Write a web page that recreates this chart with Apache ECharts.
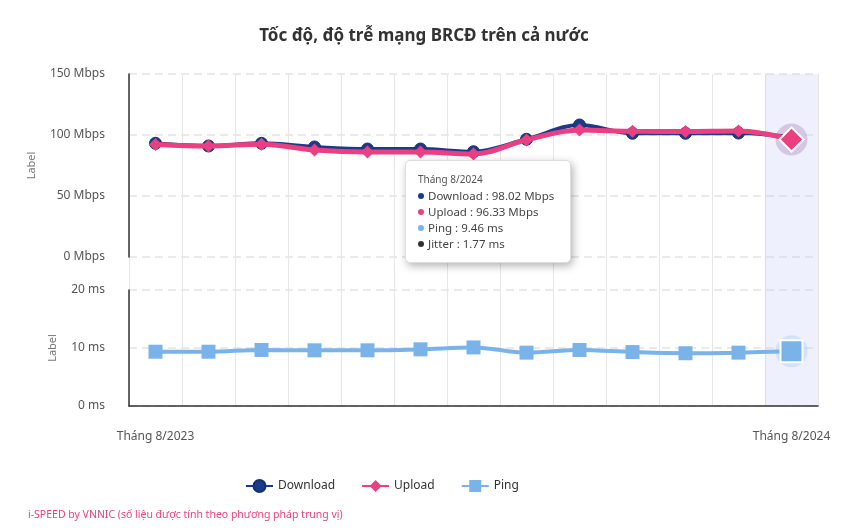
<!DOCTYPE html>
<html>
<head>
<meta charset="utf-8">
<script src="https://cdn.jsdelivr.net/npm/echarts@6/dist/echarts.min.js"></script>
<style>html,body{margin:0;padding:0;background:#fff}#c{width:867px;height:531px}</style>
</head>
<body>
<div id="c"></div>
<script>
const categories = ['Tháng 8/2023','Tháng 9/2023','Tháng 10/2023','Tháng 11/2023','Tháng 12/2023','Tháng 1/2024','Tháng 2/2024','Tháng 3/2024','Tháng 4/2024','Tháng 5/2024','Tháng 6/2024','Tháng 7/2024','Tháng 8/2024'];
const download = [93.2, 91.0, 93.2, 90.2, 88.5, 88.5, 86.3, 96.5, 108.2, 101.4, 101.4, 101.6, 98.02];
const upload = [92.3, 91.0, 92.5, 87.7, 86.0, 86.0, 84.4, 96.0, 104.0, 103.0, 102.9, 103.3, 96.33];
const ping = [9.36, 9.36, 9.66, 9.6, 9.6, 9.77, 10.1, 9.2, 9.66, 9.3, 9.1, 9.2, 9.46];
const jitterLatest = 1.77;
const speedTicks = [0, 50, 100, 150];
const pingTicks = [0, 10, 20];

const C_DL = '#1b3a8c', C_UL = '#ea3f80', C_PING = '#7ab3ea', C_JIT = '#333333';
const FONT = '"Noto Sans", sans-serif';
const last = categories.length - 1;

function withLast(arr, style) {
  return arr.map((v, i) => i === last ? Object.assign({ value: v }, style) : v);
}

const chart = echarts.init(document.getElementById('c'));
const dot = c => '<span style="display:inline-block;width:6px;height:6px;border-radius:50%;background:' + c + ';margin-right:4px;vertical-align:middle;position:relative;top:-1px"></span>';

chart.setOption({
  animation: false,
  textStyle: { fontFamily: FONT },
  title: [
    { text: 'Tốc độ, độ trễ mạng BRCĐ trên cả nước', left: 419, textAlign: 'center', top: 23,
      textStyle: { fontSize: 17, fontWeight: 'bold', color: '#333', fontFamily: FONT } },
    { text: 'i-SPEED by VNNIC (số liệu được tính theo phương pháp trung vị)', left: 23, top: 505,
      textStyle: { fontSize: 10.5, fontWeight: 'normal', color: '#e8457c', fontFamily: FONT } }
  ],
  legend: {
    left: 240, top: 474, itemWidth: 27, itemHeight: 15, itemGap: 26,
    data: ['Download', 'Upload', 'Ping'],
    textStyle: { color: '#333', fontSize: 12, fontFamily: FONT }
  },
  tooltip: {
    trigger: 'axis', alwaysShowContent: true, transitionDuration: 0,
    axisPointer: { type: 'none' },
    backgroundColor: '#fff', borderColor: '#ddd', borderWidth: 1, padding: [10, 12],
    extraCssText: 'box-shadow:2px 3px 8px rgba(0,0,0,0.3);border-radius:5px;width:140px;',
    position: () => [405, 160],
    formatter: params => {
      const i = params[0].dataIndex;
      return '<div style="font-family:Noto Sans;line-height:16px;color:#444">' +
        '<div style="font-size:10px;color:#555;margin-bottom:1px">' + categories[i] + '</div>' +
        '<div style="font-size:11.5px">' + dot(C_DL) + 'Download : ' + download[i].toFixed(2) + ' Mbps</div>' +
        '<div style="font-size:11.5px">' + dot(C_UL) + 'Upload : ' + upload[i].toFixed(2) + ' Mbps</div>' +
        '<div style="font-size:11.5px">' + dot(C_PING) + 'Ping : ' + ping[i].toFixed(2) + ' ms</div>' +
        '<div style="font-size:11.5px">' + dot(C_JIT) + 'Jitter : ' + jitterLatest.toFixed(2) + ' ms</div></div>';
    }
  },
  axisPointer: { link: [{ xAxisIndex: 'all' }] },
  grid: [
    { left: 129, right: 49, top: 74, height: 183 },
    { left: 129, right: 49, top: 290, height: 116 },
    { left: 129, right: 49, top: 74, height: 332 }
  ],
  xAxis: [
    { type: 'category', gridIndex: 0, data: categories, axisLine: { show: false }, axisTick: { show: false },
      axisLabel: { show: false }, splitLine: { show: false }, axisPointer: { type: 'none' } },
    { type: 'category', gridIndex: 1, data: categories, axisLine: { show: true, lineStyle: { color: '#333', width: 1.5 } },
      axisTick: { show: false }, splitLine: { show: false }, axisPointer: { type: 'none' },
      axisLabel: { interval: (i) => i === 0 || i === last, margin: 25, color: '#555', fontSize: 12 } },
    { type: 'category', gridIndex: 2, data: categories, axisLine: { show: false }, axisTick: { show: false },
      axisLabel: { show: false }, splitLine: { show: true, interval: 0, lineStyle: { color: '#e6e6e6', width: 1 } },
      axisPointer: { show: true, type: 'shadow', z: 0, shadowStyle: { color: 'rgba(200,210,250,0.3)' }, label: { show: false } } }
  ],
  yAxis: [
    { type: 'value', gridIndex: 0, min: speedTicks[0], max: speedTicks[speedTicks.length - 1], interval: 50,
      name: 'Label', nameLocation: 'middle', nameGap: 92, nameRotate: 90, nameTextStyle: { color: '#777', fontSize: 11 },
      axisLine: { show: true, lineStyle: { color: '#333', width: 1.5 } },
      axisLabel: { formatter: '{value} Mbps', color: '#555', fontSize: 12, margin: 24 },
      splitLine: { lineStyle: { color: '#e3e3e3', type: [8, 5], width: 1.5 } } },
    { type: 'value', gridIndex: 1, min: pingTicks[0], max: pingTicks[pingTicks.length - 1], interval: 10,
      name: 'Label', nameLocation: 'middle', nameGap: 71, nameRotate: 90, nameTextStyle: { color: '#777', fontSize: 11 },
      axisLine: { show: true, lineStyle: { color: '#333', width: 1.5 } },
      axisLabel: { formatter: '{value} ms', color: '#555', fontSize: 12, margin: 24 },
      splitLine: { lineStyle: { color: '#e3e3e3', type: [8, 5], width: 1.5 } } },
    { type: 'value', gridIndex: 2, show: false, min: 0, max: 1, splitLine: { show: false } }
  ],
  series: [
    { name: 'Download', type: 'line', xAxisIndex: 0, yAxisIndex: 0, smooth: 0.35, z: 3,
      symbol: 'circle', symbolSize: 12, color: C_DL, lineStyle: { width: 4, color: C_DL },
      itemStyle: { color: C_DL, borderColor: '#14306f', borderWidth: 1 },
      emphasis: { disabled: true },
      data: download },
    { name: 'Upload', type: 'line', xAxisIndex: 0, yAxisIndex: 0, smooth: 0.35, z: 4,
      symbol: 'diamond', symbolSize: 13, color: C_UL, lineStyle: { width: 5, color: C_UL },
      itemStyle: { color: C_UL },
      emphasis: { disabled: true },
      data: withLast(upload, { symbolSize: 22, itemStyle: { color: C_UL, borderColor: '#fff', borderWidth: 2 } }) },
    { name: 'Ping', type: 'line', xAxisIndex: 1, yAxisIndex: 1, smooth: 0.35, z: 3,
      symbol: 'rect', symbolSize: 14, color: C_PING, lineStyle: { width: 4, color: C_PING },
      itemStyle: { color: C_PING },
      emphasis: { disabled: true },
      data: withLast(ping, { symbolSize: 20, itemStyle: { color: C_PING, borderColor: '#fff', borderWidth: 2 } }) },
    { name: 'haloSpeed', type: 'scatter', xAxisIndex: 0, yAxisIndex: 0, z: 2, silent: true, tooltip: { show: false },
      symbol: 'circle', symbolSize: 32, itemStyle: { color: 'rgba(150,105,170,0.38)' },
      data: [[last, upload[last]]] },
    { name: 'haloPing', type: 'scatter', xAxisIndex: 1, yAxisIndex: 1, z: 2, silent: true, tooltip: { show: false },
      symbol: 'circle', symbolSize: 32, itemStyle: { color: 'rgba(122,179,234,0.3)' },
      data: [[last, ping[last]]] }
  ]
});
chart.dispatchAction({ type: 'showTip', x: 792, y: 150 });
</script>
</body>
</html>
